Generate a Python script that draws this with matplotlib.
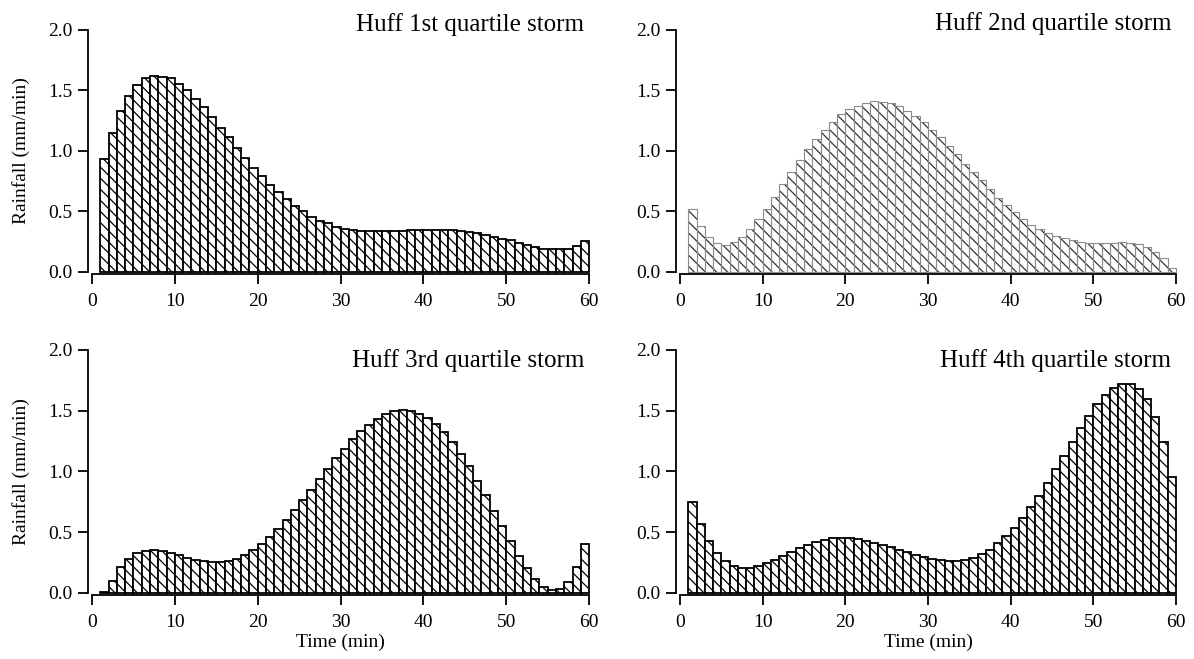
import numpy as np
import matplotlib
matplotlib.use("Agg")
import matplotlib.pyplot as plt

plt.rcParams['font.family'] = ['Liberation Serif', 'DejaVu Serif']
plt.rcParams['hatch.linewidth'] = 0.9

# one bar per minute, left edge at the minute
minutes = np.arange(1, 60)

q1 = [0.93, 1.15, 1.33, 1.45, 1.54, 1.60, 1.62, 1.61, 1.60, 1.55,
      1.50, 1.43, 1.36, 1.28, 1.19, 1.11, 1.02, 0.94, 0.86, 0.79,
      0.72, 0.66, 0.60, 0.54, 0.50, 0.45, 0.42, 0.40, 0.37, 0.355,
      0.345, 0.336, 0.335, 0.334, 0.334, 0.336, 0.34, 0.342, 0.344, 0.345,
      0.345, 0.344, 0.342, 0.335, 0.325, 0.316, 0.30, 0.286, 0.272, 0.259,
      0.24, 0.22, 0.206, 0.19, 0.184, 0.184, 0.186, 0.21, 0.25]

q2 = [0.52, 0.377, 0.283, 0.234, 0.22, 0.242, 0.289, 0.349, 0.435, 0.52,
      0.619, 0.721, 0.82, 0.92, 1.012, 1.095, 1.175, 1.24, 1.30, 1.342,
      1.373, 1.397, 1.408, 1.406, 1.392, 1.367, 1.33, 1.287, 1.235, 1.172,
      1.111, 1.043, 0.974, 0.894, 0.823, 0.754, 0.682, 0.613, 0.55, 0.49,
      0.435, 0.39, 0.349, 0.316, 0.297, 0.278, 0.261, 0.245, 0.24, 0.234,
      0.234, 0.237, 0.242, 0.24, 0.226, 0.206, 0.165, 0.11, 0.028]

q3 = [0.005, 0.096, 0.209, 0.28, 0.324, 0.346, 0.352, 0.343, 0.33, 0.31,
      0.288, 0.272, 0.258, 0.253, 0.253, 0.26, 0.28, 0.31, 0.352, 0.40,
      0.46, 0.525, 0.596, 0.679, 0.761, 0.846, 0.934, 1.019, 1.107, 1.184,
      1.264, 1.33, 1.385, 1.434, 1.47, 1.495, 1.503, 1.495, 1.475, 1.442,
      1.393, 1.321, 1.245, 1.146, 1.041, 0.923, 0.808, 0.676, 0.547, 0.423,
      0.302, 0.20, 0.113, 0.05, 0.025, 0.03, 0.088, 0.214, 0.40]

q4 = [0.748, 0.564, 0.424, 0.325, 0.261, 0.223, 0.206, 0.206, 0.22, 0.242,
      0.272, 0.303, 0.336, 0.366, 0.396, 0.421, 0.437, 0.448, 0.454, 0.451,
      0.443, 0.429, 0.413, 0.393, 0.374, 0.355, 0.336, 0.314, 0.294, 0.278,
      0.267, 0.259, 0.259, 0.27, 0.289, 0.316, 0.355, 0.407, 0.465, 0.531,
      0.613, 0.704, 0.80, 0.905, 1.018, 1.128, 1.241, 1.354, 1.458, 1.552,
      1.629, 1.686, 1.719, 1.719, 1.681, 1.593, 1.447, 1.243, 0.957]

titles = ["Huff 1st quartile storm", "Huff 2nd quartile storm",
          "Huff 3rd quartile storm", "Huff 4th quartile storm"]
series = [q1, q2, q3, q4]

x_ticks = [0, 10, 20, 30, 40, 50, 60]
y_ticks = [0.0, 0.5, 1.0, 1.5, 2.0]

fig = plt.figure(figsize=(11.94, 6.59), dpi=100)

# axes boxes (left, bottom, width, height) in figure fraction
boxes = [(0.0771, 0.5877, 0.4163, 0.3672),
         (0.5695, 0.5877, 0.4154, 0.3672),
         (0.0771, 0.1006, 0.4163, 0.3683),
         (0.5695, 0.1006, 0.4154, 0.3683)]
title_y = [0.995, 0.998, 0.931, 0.931]

hatch = '\\\\\\'

for i, (box, vals, title) in enumerate(zip(boxes, series, titles)):
    ax = fig.add_axes(box)
    if i == 1:
        # second panel: black hatch, thin grey outlines
        ax.bar(minutes, vals, width=1, align='edge', facecolor='white',
               edgecolor='#333333', linewidth=0, hatch=hatch, clip_on=False)
        ax.bar(minutes, vals, width=1, align='edge', facecolor='none',
               edgecolor='#8c8c8c', linewidth=0.8, clip_on=False)
    else:
        ax.bar(minutes, vals, width=1, align='edge', facecolor='white',
               edgecolor='black', linewidth=1.3, hatch=hatch, clip_on=False)

    ax.set_xlim(0, 60)
    ax.set_ylim(0, 2.0)
    ax.set_xticks(x_ticks)
    ax.set_yticks(y_ticks)
    ax.set_yticklabels([f"{v:.1f}" for v in y_ticks])

    for side in ['top', 'right']:
        ax.spines[side].set_visible(False)
    ax.spines['left'].set_position(('outward', 3))
    ax.spines['bottom'].set_position(('outward', 2))
    ax.spines['left'].set_bounds(0, 2.0)
    ax.spines['bottom'].set_bounds(0, 60)
    for side in ['left', 'bottom']:
        ax.spines[side].set_linewidth(1.3)

    ax.tick_params(direction='out', length=7, width=1.3, labelsize=14)
    ax.tick_params(axis='x', pad=6)
    ax.tick_params(axis='y', pad=4)

    ax.text(0.99, title_y[i], title, transform=ax.transAxes,
            ha='right', va='baseline', fontsize=18)

    if i in (0, 2):
        ax.set_ylabel("Rainfall (mm/min)", fontsize=14, labelpad=13)
    if i in (2, 3):
        ax.set_xlabel("Time (min)", fontsize=14, labelpad=2)

fig.savefig("out.png", dpi=100)
